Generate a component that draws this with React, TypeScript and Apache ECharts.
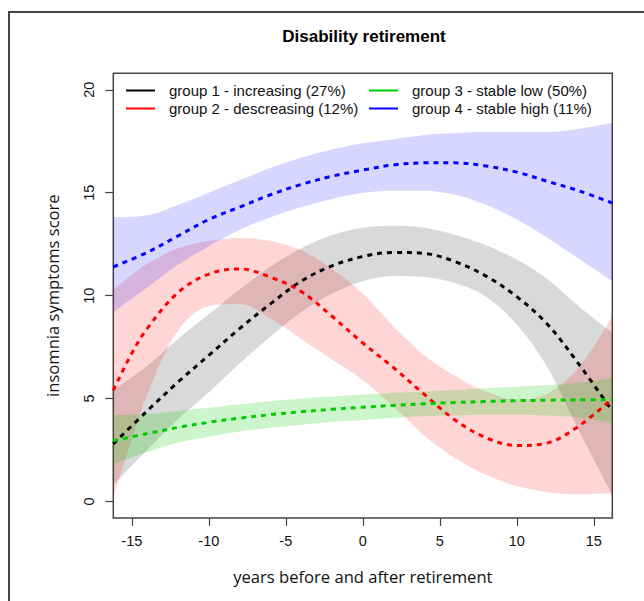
import React, { useEffect, useRef } from "react";
import * as echarts from "echarts";

// x positions (years relative to retirement)
const X_STEP2 = [-16.2, -14, -12, -10, -8, -6, -4, -2, 0, 2, 4, 6, 8, 10, 12, 14, 16.2];
const X_RED = [-16.2, -15, -14, -12, -10, -8, -6, -4, -2, 0, 2, 4, 6, 8, 10, 12, 14, 16.2];

// group 1 - increasing (X_STEP2)
const G1_MEAN = [2.8, 4.4, 5.8, 7.1, 8.4, 9.6, 10.7, 11.45, 11.9, 12.1, 12.05, 11.65, 10.95, 9.95, 8.6, 6.7, 4.4];
const G1_UPPER = [5.4, 6.6, 7.9, 9.1, 10.3, 11.4, 12.3, 12.95, 13.3, 13.4, 13.3, 12.95, 12.45, 11.75, 10.8, 9.5, 8.2];
const G1_LOWER = [0.8, 2.5, 4.0, 5.3, 6.7, 8.0, 9.2, 10.1, 10.7, 10.95, 10.9, 10.6, 9.95, 8.6, 6.5, 3.5, 0.3];

// group 2 - descreasing (X_RED)
const G2_MEAN = [5.4, 7.2, 8.4, 10.15, 11.05, 11.3, 10.9, 10.2, 9.0, 7.7, 6.5, 5.2, 3.95, 3.1, 2.72, 2.85, 3.65, 5.0];
const G2_UPPER = [10.3, 11.0, 11.55, 12.3, 12.65, 12.8, 12.65, 12.2, 11.3, 10.1, 8.5, 7.1, 6.1, 5.35, 4.95, 5.25, 6.5, 9.0];
const G2_LOWER = [0.2, 3.0, 5.2, 8.3, 9.5, 9.6, 8.9, 7.9, 6.9, 5.9, 4.6, 3.2, 2.1, 1.3, 0.75, 0.45, 0.35, 0.4];

// group 3 - stable low (X_STEP2)
const G3_MEAN = [2.95, 3.3, 3.6, 3.85, 4.05, 4.22, 4.36, 4.48, 4.58, 4.67, 4.75, 4.81, 4.86, 4.9, 4.92, 4.94, 4.95];
const G3_UPPER = [4.2, 4.25, 4.4, 4.55, 4.72, 4.87, 5.0, 5.1, 5.2, 5.28, 5.35, 5.42, 5.5, 5.58, 5.66, 5.76, 6.0];
const G3_LOWER = [1.8, 2.4, 2.85, 3.15, 3.4, 3.58, 3.73, 3.86, 3.96, 4.06, 4.14, 4.19, 4.22, 4.22, 4.18, 4.08, 3.8];

// group 4 - stable high (X_STEP2)
const G4_MEAN = [11.4, 12.1, 12.9, 13.7, 14.3, 14.9, 15.4, 15.8, 16.1, 16.35, 16.45, 16.45, 16.3, 16.0, 15.55, 15.1, 14.5];
const G4_UPPER = [13.8, 13.9, 14.4, 15.0, 15.6, 16.2, 16.7, 17.1, 17.4, 17.6, 17.8, 17.9, 17.95, 17.95, 17.95, 18.1, 18.4];
const G4_LOWER = [9.2, 10.4, 11.5, 12.4, 13.2, 13.8, 14.3, 14.7, 15.0, 15.1, 15.1, 14.9, 14.4, 13.7, 12.8, 11.8, 10.7];

const GROUP_NAMES = [
  "group 1 - increasing (27%)",
  "group 2 - descreasing (12%)",
  "group 3 - stable low (50%)",
  "group 4 - stable high (11%)",
];

const X_TICKS = [-15, -10, -5, 0, 5, 10, 15];
const Y_TICKS = [0, 5, 10, 15, 20];

const LINE_COLORS = ["#000000", "#ff0000", "#00cd00", "#0000ff"];
const BAND_COLORS = [
  "rgba(0,0,0,0.15)",
  "rgba(255,0,0,0.16)",
  "rgba(0,205,0,0.2)",
  "rgba(0,0,255,0.16)",
];

const SMOOTH = 0.35;

function pairs(xs: number[], ys: number[]) {
  return xs.map((x, i) => [x, ys[i]]);
}

// Band = stacked pair of line series; data are [y, x] so that the stacked
// dimension is y, with encode mapping them back onto the axes.
function band(id: string, xs: number[], lo: number[], hi: number[], color: string) {
  return [
    {
      type: "line",
      name: id + "-lower",
      stack: id,
      data: xs.map((x, i) => [lo[i], x]),
      encode: { x: 1, y: 0 },
      smooth: SMOOTH,
      symbol: "none",
      silent: true,
      lineStyle: { opacity: 0 },
      z: 1,
    },
    {
      type: "line",
      name: id + "-upper",
      stack: id,
      data: xs.map((x, i) => [hi[i] - lo[i], x]),
      encode: { x: 1, y: 0 },
      smooth: SMOOTH,
      symbol: "none",
      silent: true,
      lineStyle: { opacity: 0 },
      areaStyle: { color, opacity: 1 },
      z: 1,
    },
  ];
}

function meanLine(name: string, xs: number[], ys: number[], color: string) {
  return {
    type: "line",
    name,
    data: pairs(xs, ys),
    smooth: SMOOTH,
    symbol: "none",
    silent: true,
    color,
    itemStyle: { color },
    lineStyle: { color, width: 3, type: [5, 5] },
    z: 3,
  };
}

export default function App() {
  const ref = useRef<HTMLDivElement>(null);
  useEffect(() => {
    if (!ref.current) return;
    const chart = echarts.init(ref.current, null, { renderer: "svg" });
    const tickFont = { fontFamily: "Liberation Sans", fontSize: 14.5, color: "#111" };
    const legendBase = {
      orient: "vertical",
      top: 83,
      padding: 0,
      itemWidth: 29,
      itemHeight: 2,
      itemGap: 3,
      icon: "rect",
      selectedMode: false,
      itemStyle: { borderWidth: 0 },
      textStyle: {
        fontFamily: "Liberation Sans",
        fontSize: 15,
        lineHeight: 13,
        color: "#111",
        padding: [0, 0, 0, 9],
      },
    };
    chart.setOption({
      animation: false,
      backgroundColor: "#ffffff",
      title: {
        text: "Disability retirement",
        left: 364,
        top: 28,
        textAlign: "center",
        padding: 0,
        textStyle: {
          fontFamily: "Liberation Sans",
          fontWeight: "bold",
          fontSize: 17,
          color: "#000",
        },
      },
      legend: [
        { ...legendBase, left: 126, data: [GROUP_NAMES[0], GROUP_NAMES[1]] },
        { ...legendBase, left: 369, data: [GROUP_NAMES[2], GROUP_NAMES[3]] },
      ],
      grid: {
        left: 113.3,
        right: 31.7,
        top: 73.3,
        bottom: 83,
        show: true,
        borderColor: "#444",
        borderWidth: 1.5,
        backgroundColor: "transparent",
      },
      xAxis: {
        type: "value",
        min: -16.2,
        max: 16.2,
        splitLine: { show: false },
        axisLine: { show: false, onZero: false },
        axisTick: {
          show: true,
          customValues: X_TICKS,
          length: 8,
          lineStyle: { color: "#444", width: 1.2 },
        },
        axisLabel: { customValues: X_TICKS, margin: 15, ...tickFont },
        name: "years before and after retirement",
        nameLocation: "middle",
        nameGap: 50,
        nameTextStyle: { fontFamily: "Open Sans", fontSize: 16.6, color: "#111" },
      },
      yAxis: {
        type: "value",
        min: -0.8,
        max: 20.8,
        splitLine: { show: false },
        axisLine: { show: false, onZero: false },
        axisTick: {
          show: true,
          customValues: Y_TICKS,
          length: 8,
          lineStyle: { color: "#444", width: 1.2 },
        },
        axisLabel: { customValues: Y_TICKS, margin: 17, rotate: 90, ...tickFont },
        name: "insomnia symptoms score",
        nameLocation: "middle",
        nameGap: 52,
        nameTextStyle: { fontFamily: "Open Sans", fontSize: 16.6, color: "#111" },
      },
      graphic: [
        {
          type: "rect",
          shape: { x: 9, y: 12, width: 700, height: 700 },
          style: { fill: "none", stroke: "#444", lineWidth: 2 },
          silent: true,
        },
      ],
      series: [
        ...band("g1", X_STEP2, G1_LOWER, G1_UPPER, BAND_COLORS[0]),
        ...band("g2", X_RED, G2_LOWER, G2_UPPER, BAND_COLORS[1]),
        ...band("g3", X_STEP2, G3_LOWER, G3_UPPER, BAND_COLORS[2]),
        ...band("g4", X_STEP2, G4_LOWER, G4_UPPER, BAND_COLORS[3]),
        meanLine(GROUP_NAMES[0], X_STEP2, G1_MEAN, LINE_COLORS[0]),
        meanLine(GROUP_NAMES[1], X_RED, G2_MEAN, LINE_COLORS[1]),
        meanLine(GROUP_NAMES[2], X_STEP2, G3_MEAN, LINE_COLORS[2]),
        meanLine(GROUP_NAMES[3], X_STEP2, G4_MEAN, LINE_COLORS[3]),
      ],
    });
    return () => chart.dispose();
  }, []);
  return (
    <div
      ref={ref}
      style={{ position: "absolute", left: 0, top: 0, width: 644, height: 601 }}
    />
  );
}
